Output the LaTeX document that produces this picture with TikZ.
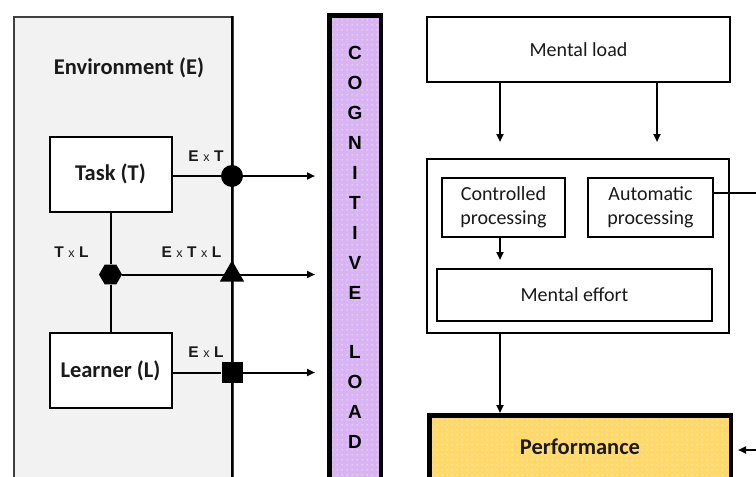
\documentclass[tikz,border=0pt]{standalone}
\usepackage{fontspec}
\setmainfont{Carlito}
\newfontfamily\labelfamily{Liberation Sans}
\usetikzlibrary{arrows.meta,shapes.geometric,patterns.meta}

\definecolor{envgray}{HTML}{F2F2F2}
\definecolor{lilac}{HTML}{D8B4F2}
\definecolor{gold}{HTML}{FFD96B}
\definecolor{ink}{HTML}{1A1A1A}

% sparse white dot texture laid over the coloured fills
\tikzdeclarepattern{
  name=whitedots, type=uncolored,
  bounding box={(0pt,0pt) and (5pt,5pt)},
  tile size={(5pt,5pt)},
  code={\fill (2.5pt,2.5pt) circle (0.65pt);}
}

\newcommand{\ix}{\hspace{4.5pt}{\mdseries\fontsize{12.5}{12.5}\selectfont x}\hspace{4.5pt}}

\tikzset{
  box/.style={draw=black, line width=2pt, fill=white, inner sep=0pt, text=ink},
  conn/.style={line width=2pt, draw=black},
  arr/.style={conn, -{Triangle[length=8pt,width=7pt]}},
  bigbold/.style={font=\fontsize{22.5}{26}\selectfont\bfseries, text=ink},
  plain/.style={font=\fontsize{20}{24.5}\selectfont},
  intlabel/.style={font=\labelfamily\fontsize{15.5}{16}\selectfont\bfseries, inner sep=0pt,
                   text height=11pt, text depth=0pt, text=ink},
  marker/.style={fill=black, draw=none, inner sep=0pt},
  patbar/.style={draw=black, line width=4.5pt, pattern=whitedots, pattern color=white, inner sep=0pt},
  cogletter/.style={font=\labelfamily\fontsize{19}{19}\selectfont\bfseries, inner sep=0pt,
                    text height=13.6pt, text depth=0pt},
}

\begin{document}
\begin{tikzpicture}[x=1pt,y=-1pt]
\useasboundingbox (0,0) rectangle (756,477);
\clip (0,0) rectangle (756,477);

% ---------- environment panel ----------
\node[draw=black!75, line width=1.5pt, fill=envgray, minimum width=219pt,
      minimum height=480pt, inner sep=0pt, anchor=north west] (env) at (13,16) {};
\node[bigbold] (envtitle) at (129,68) {Environment (E)};

% environment axis
\coordinate (axtop) at (232,16);
\coordinate (axbot) at (232,495);
\draw[conn] (axtop) -- (axbot);

% ---------- cognitive load bar ----------
\node[patbar, preaction={fill=lilac}, minimum width=51.5pt, minimum height=520pt,
      anchor=north] (cog) at (355,13) {};
\foreach \k/\ch in {0/C,1/O,2/G,3/N,4/I,5/T,6/I,7/V,8/E,10/L,11/O,12/A,13/D}
  \node[cogletter] (cogletter\k) at (355,53+29.9*\k) {\ch};

% ---------- task and learner ----------
\node[box, bigbold, minimum width=122pt, minimum height=75pt] (task) at (110.5,174) {Task (T)};
\node[box, bigbold, minimum width=122pt, minimum height=75pt] (learner) at (110.5,370.5) {Learner (L)};

% interaction markers
\node[marker, circle, minimum size=22pt] (et) at (232,176) {};
\node[marker, regular polygon, regular polygon sides=6, minimum size=23pt] (tl) at (110.5,274.5) {};
\node[marker, regular polygon, regular polygon sides=3, minimum size=28pt] (etl) at (232,274.5) {};
\node[marker, rectangle, minimum size=21pt] (el) at (232,372.5) {};

% interaction labels
\node[intlabel] (etlab) at (206,155.5) {E\ix T};
\node[intlabel] (tllab) at (71.5,252) {T\ix L};
\node[intlabel] (etllab) at (191.5,252) {E\ix T\ix L};
\node[intlabel] (ellab) at (206,351.5) {E\ix L};

% connectors on the left
\draw[conn] (et -| task.east) -- (et);
\draw[conn] (task.south) -- (tl);
\draw[conn] (tl) -- (learner.north);
\draw[conn] (tl) -- (etl);
\draw[conn] (el -| learner.east) -- (el);
\draw[arr, shorten >=12pt] (et) -- (et -| cog.west);
\draw[arr, shorten >=12pt] (etl) -- (etl -| cog.west);
\draw[arr, shorten >=12pt] (el) -- (el -| cog.west);

% ---------- right panel ----------
\node[box, plain, minimum width=303pt, minimum height=65pt] (mental) at (578.5,49.5) {Mental load};
\node[box, minimum width=302pt, minimum height=174pt] (proc) at (578,246) {};
\node[box, plain, align=center, minimum width=123pt, minimum height=59pt] (ctrl) at (503.5,207.5) {Controlled\\processing};
\node[box, plain, align=center, minimum width=125pt, minimum height=59pt] (auto) at (650.5,207.5) {Automatic\\processing};
\node[box, plain, minimum width=275pt, minimum height=52pt] (effort) at (574.5,295) {Mental effort};
\node[patbar, preaction={fill=gold}, bigbold, minimum width=301.5pt, minimum height=63.5pt] (perf) at (580,447) {Performance};

\coordinate (colA) at (500,0);
\coordinate (colB) at (657,0);
\coordinate (outA) at (775,193);
\coordinate (inB) at (775,450);

\draw[arr, shorten >=16pt] (mental.south -| colA) -- (proc.north -| colA);
\draw[arr, shorten >=16pt] (mental.south -| colB) -- (proc.north -| colB);
\draw[arr, shorten >=8pt] (ctrl.south -| colA) -- (effort.north -| colA);
\draw[arr] (proc.south -| colA) -- (perf.north -| colA);
\draw[conn] (outA -| auto.east) -- (outA);
\draw[arr, shorten >=5pt] (inB) -- (inB -| perf.east);
\end{tikzpicture}
\end{document}
